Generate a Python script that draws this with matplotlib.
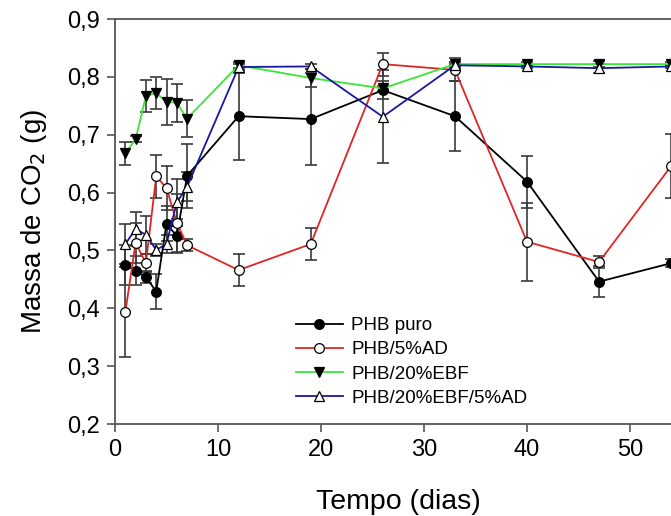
import matplotlib
matplotlib.use("Agg")
import matplotlib.pyplot as plt

plt.rcParams['font.family'] = ['Liberation Sans', 'DejaVu Sans']

days = [1, 2, 3, 4, 5, 6, 7, 12, 19, 26, 33, 40, 47, 54]

phb = [0.475, 0.465, 0.454, 0.429, 0.546, 0.525, 0.629, 0.732, 0.727, 0.777, 0.732, 0.619, 0.446, 0.478]
phb_err = [0.035, 0.025, 0.01, 0.03, 0.03, 0.03, 0.055, 0.075, 0.08, 0.015, 0.06, 0.045, 0.027, 0.007]

phb_ad = [0.393, 0.513, 0.478, 0.628, 0.608, 0.548, 0.509, 0.466, 0.511, 0.822, 0.812, 0.515, 0.480, 0.646]
phb_ad_err = [0.078, 0.035, 0.015, 0.037, 0.038, 0.05, 0.01, 0.028, 0.028, 0.02, 0.02, 0.067, 0.01, 0.055]

phb_ebf = [0.668, 0.692, 0.767, 0.772, 0.757, 0.755, 0.728, 0.820, 0.798, 0.780, 0.822, 0.822, 0.822, 0.822]
phb_ebf_err = [0.02, 0.005, 0.027, 0.028, 0.04, 0.033, 0.032, 0.005, 0.016, 0.005, 0.003, 0.003, 0.005, 0.003]

phb_ebf_ad = [0.511, 0.537, 0.527, 0.501, 0.511, 0.583, 0.610, 0.817, 0.818, 0.731, 0.820, 0.818, 0.815, 0.818]
phb_ebf_ad_err = [0.035, 0.03, 0.033, 0.01, 0.015, 0.04, 0.025, 0.005, 0.005, 0.08, 0.003, 0.003, 0.008, 0.003]

labels = ['PHB puro', 'PHB/5%AD', 'PHB/20%EBF', 'PHB/20%EBF/5%AD']

fig = plt.figure(figsize=(6.71, 5.16), dpi=100)
# axes run past the right edge of the picture (cropped original)
ax = fig.add_axes([115/671, 92/516, 566.5/671, 405/516])

series = [
    (phb, phb_err, '#000000', 'o', 'black'),
    (phb_ad, phb_ad_err, '#e02525', 'o', 'white'),
    (phb_ebf, phb_ebf_err, '#38e638', 'v', 'black'),
    (phb_ebf_ad, phb_ebf_ad_err, '#1818a0', '^', 'white'),
]

for (y, e, c, m, fc), lab in zip(series, labels):
    ax.errorbar(days, y, yerr=e, fmt='none', ecolor='#3a3a3a', elinewidth=1.2,
                capsize=4, capthick=1.2, zorder=2)
    ax.plot(days, y, color=c, lw=1.3, marker=m, ms=7, mfc=fc, mec='black',
            mew=0.9, label=lab, zorder=3)

ax.set_xlim(0, 55)
ax.set_ylim(0.2, 0.9)
ax.set_xticks([0, 10, 20, 30, 40, 50])
ax.set_yticks([0.2, 0.3, 0.4, 0.5, 0.6, 0.7, 0.8, 0.9])
ax.set_yticklabels(['0,2', '0,3', '0,4', '0,5', '0,6', '0,7', '0,8', '0,9'])
ax.tick_params(direction='out', length=6, width=1.2, color='#555555',
               labelsize=17, pad=5)
for s in ax.spines.values():
    s.set_color('#555555')
    s.set_linewidth(1.3)

ax.set_xlabel('Tempo (dias)', fontsize=20.5, labelpad=20)
ax.set_ylabel('Massa de CO$_2$ (g)', fontsize=20, labelpad=13)

ax.legend(loc='upper left', bbox_to_anchor=(296/671, 1 - 317/516),
          bbox_transform=fig.transFigure, frameon=False, fontsize=13.5,
          handlelength=2.5, handletextpad=0.45, labelspacing=0.38,
          borderpad=0, borderaxespad=0)

fig.savefig('out.png', dpi=100)
